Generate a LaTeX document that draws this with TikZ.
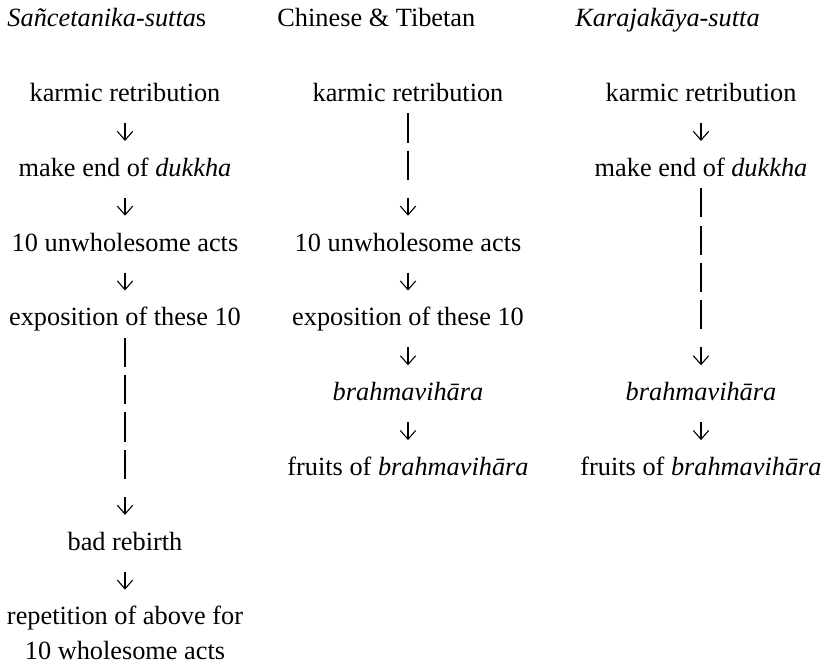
\documentclass[tikz,border=0pt]{standalone}
\usepackage{fontspec}
\setmainfont{Liberation Serif}
\usetikzlibrary{arrows.meta}

\begin{document}
\begin{tikzpicture}[x=0.456pt,y=-17.05pt]
    \tikzstyle{every node}=[anchor=base,inner sep=0pt,text height=8.7pt,text depth=2.7pt,font=\fontsize{12}{14}\selectfont];
    \tikzstyle{head}=[anchor=base west];
    \tikzstyle{flow}=[line width=0.5pt,-{Straight Barb[length=4pt,width=7pt]},shorten <=6.9pt,shorten >=7.2pt];
    \tikzstyle{twobars}=[shorten <=2.5pt,dash pattern=on 13.3pt off 3.75pt on 13.3pt off 8.2pt on 20pt];
    \tikzstyle{fourbars}=[shorten <=2.5pt,dash pattern=on 13.3pt off 3.75pt on 13.3pt off 3.75pt on 13.3pt off 3.75pt on 13.3pt off 8.2pt on 20pt];
    \useasboundingbox (0,-0.714) rectangle (830,17.093);
    % headings
    \node[head] (sanc) at (7,0) {\textit{Sañcetanika-sutta}s};
    \node[head] (chin) at (277,0) {Chinese \& Tibetan};
    \node[head] (kara) at (575,0) {\textit{Karajakāya-sutta}};
    % Sancetanika-suttas
    \node (s1) at (125,2) {karmic retribution};
    \node (s2) at (125,4) {make end of \textit{dukkha}};
    \node (s3) at (125,6) {10 unwholesome acts};
    \node (s4) at (125,8) {exposition of these 10};
    \node (s5) at (125,14) {bad rebirth};
    \node (s6) at (125,16) {repetition of above for};
    \node (s7) at (125,16.934) {10 wholesome acts};
    % Chinese & Tibetan
    \node (c1) at (408,2) {karmic retribution};
    \node (c2) at (408,6) {10 unwholesome acts};
    \node (c3) at (408,8) {exposition of these 10};
    \node (c4) at (408,10) {\textit{brahmavihāra}};
    \node (c5) at (408,12) {fruits of \textit{brahmavihāra}};
    % Karajakaya-sutta
    \node (k1) at (701,2) {karmic retribution};
    \node (k2) at (701,4) {make end of \textit{dukkha}};
    \node (k3) at (701,10) {\textit{brahmavihāra}};
    \node (k4) at (701,12) {fruits of \textit{brahmavihāra}};
    \draw[flow] (s1) -- (s2);
    \draw[flow] (s2) -- (s3);
    \draw[flow] (s3) -- (s4);
    \draw[flow,fourbars] (s4) -- (s5);
    \draw[flow] (s5) -- (s6);
    \draw[flow,twobars] (c1) -- (c2);
    \draw[flow] (c2) -- (c3);
    \draw[flow] (c3) -- (c4);
    \draw[flow] (c4) -- (c5);
    \draw[flow] (k1) -- (k2);
    \draw[flow,fourbars] (k2) -- (k3);
    \draw[flow] (k3) -- (k4);
\end{tikzpicture}
\end{document}
